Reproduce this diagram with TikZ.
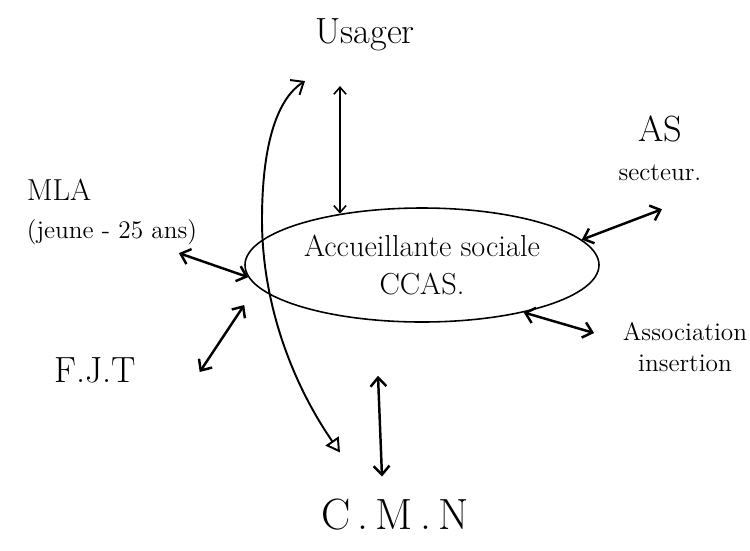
\documentclass[tikz,border=0pt]{standalone}
\usepackage{tikz}
\usetikzlibrary{shapes.geometric, arrows.meta, calc}

\begin{document}
\begin{tikzpicture}[
  x = 0.2mm, y = -0.2mm,
  lbl/.style    = {font=\LARGE, align=center, inner sep=2pt},
  hub/.style    = {draw, ellipse, line width=0.9pt, minimum width=7.08cm,
                   minimum height=2.28cm, font=\LARGE, align=center, inner sep=0pt},
  link/.style   = {{Straight Barb[length=5pt,width=9pt]}-{Straight Barb[length=5pt,width=9pt]},
                   line width=1.4pt},
  slimlink/.style = {{Straight Barb[length=4pt,width=7pt]}-{Straight Barb[length=4pt,width=7pt]},
                   line width=0.9pt},
  bypass/.style = {{Triangle[open,length=8pt,width=9pt]}-{Straight Barb[length=6pt,width=10pt]},
                   line width=1.1pt}
]
\useasboundingbox (0,0) rectangle (750,550);

% ── CENTRE ──────────────────────────────────────────────
\node[hub] (ccas) at (422,265) {Accueillante sociale\\CCAS.};

% ── PARTNERS ────────────────────────────────────────────
\node[lbl, font=\huge] (usager) at (365,35) {Usager};
\node[lbl, align=left] (mla) at (112,212) {MLA\\{\Large (jeune - 25 ans)}};
\node[lbl, font=\huge] (fjt) at (95,370) {F.J.T};
\node[lbl] (as)     at (660,148) {{\huge AS}\\{\Large secteur.}};
\node[lbl, font=\Large] (assoc) at (685,347) {Association\\insertion};
\node[lbl, font=\Huge]  (cmn)   at (395,515) {C\,.\,M\,.\,N};

% ── ARROWS ──────────────────────────────────────────────
\draw[slimlink] ($(usager.south)+(-25,31)$) -- (ccas.148);
\draw[link] ($(mla.south east)+(-22,4)$) -- (ccas.184);
\draw[link] ($(fjt.east)+(60,2)$) -- ($(ccas.west)+(0,40)$);
\draw[link] (ccas.9) -- ($(as.south)+(2,25)$);
\draw[link] (ccas.-25) -- ($(assoc.west)+(-25,-14)$);
\draw[link] ($(ccas.south)+(-44,53)$) -- ($(cmn.north)+(-13,-19)$);

% usager <-> C.M.N, around the centre
\draw[bypass] ($(cmn.north)+(-55,-43)$)
   .. controls (290,380) and (262,300) .. (262,220)
   .. controls (262,150) and (275,100) .. ($(usager.south)+(-60,26)$);

\end{tikzpicture}
\end{document}
